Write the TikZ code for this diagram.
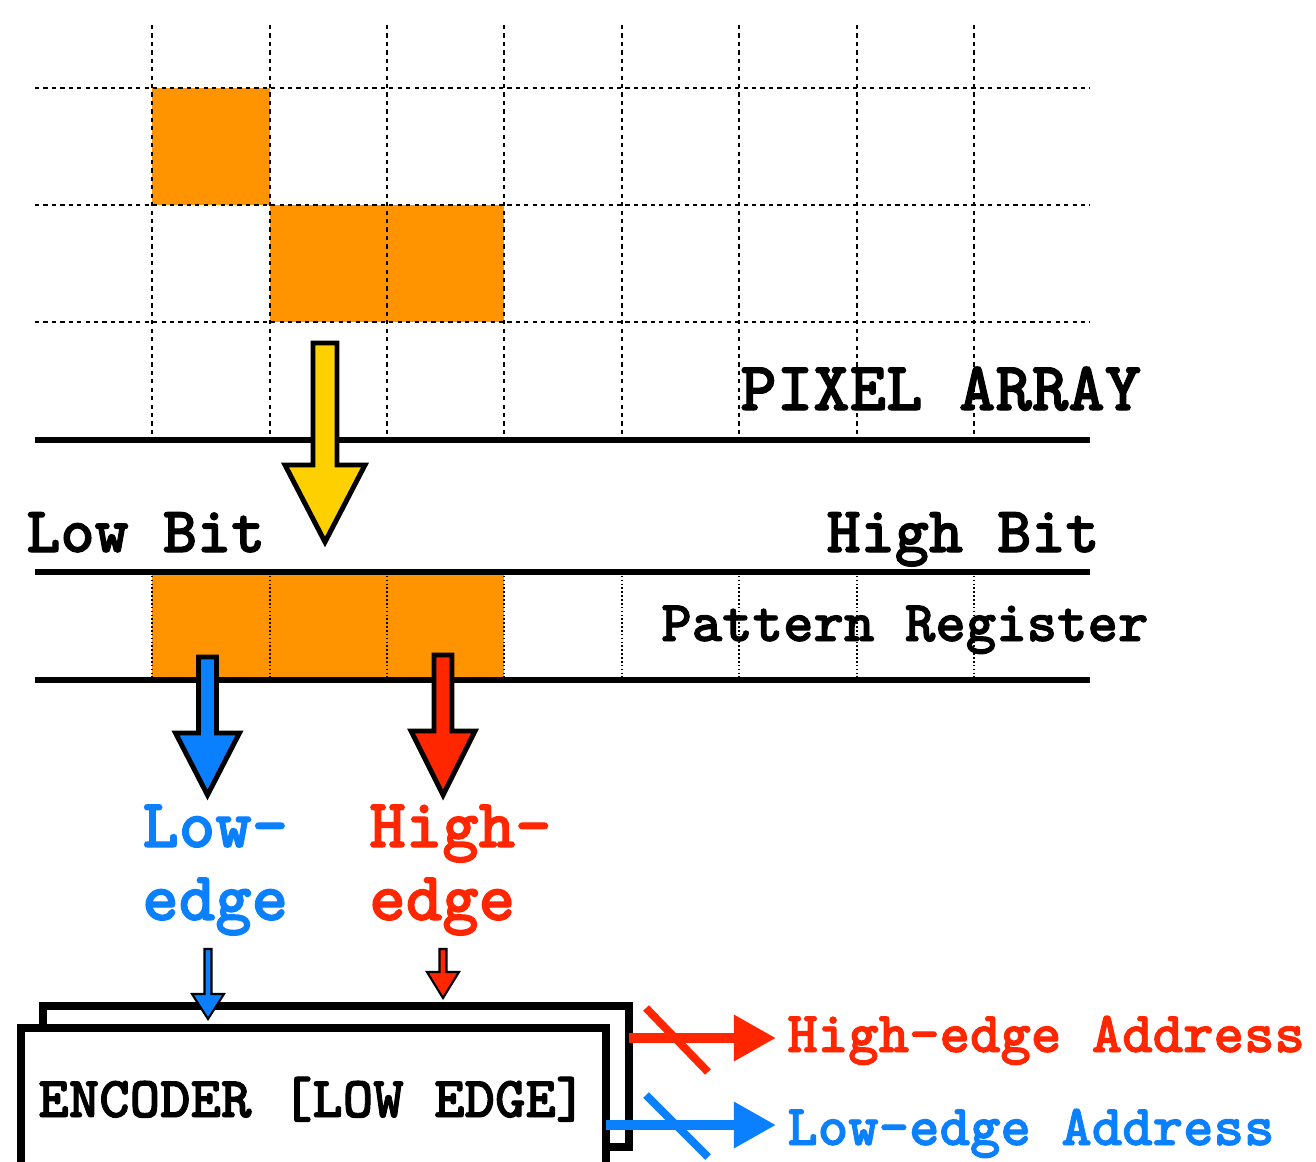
\documentclass[tikz,border=0pt]{standalone}
\usepackage{fontspec}
\usepackage{xcolor}
\usepackage{tikz}
\usetikzlibrary{arrows.meta}
\newfontfamily\heavytt{lmmonolt10-bold.otf}[FakeBold=1.6]
\definecolor{pixorange}{RGB}{255,147,0}
\definecolor{hityellow}{RGB}{255,208,0}
\definecolor{lowblue}{RGB}{10,128,255}
\definecolor{highred}{RGB}{255,38,0}
\newcommand{\sizeL}{\fontsize{39.5}{41.5}\selectfont}
\newcommand{\sizeM}{\fontsize{37}{42}\selectfont}
\newcommand{\sizeS}{\fontsize{33}{38}\selectfont}
% block arrow: centre x, top, neck, tip, half shaft, half head, fill
\newcommand{\blockarrow}[8]{%
  \filldraw[#8,fill=#7] (#1-#5,#2) -- (#1+#5,#2) -- (#1+#5,#3) -- (#1+#6,#3)
    -- (#1,#4) -- (#1-#6,#3) -- (#1-#5,#3) -- cycle;}

\begin{document}
\begin{tikzpicture}[x=0.2mm,y=-0.2mm,
  lbl/.style={inner sep=0pt,anchor=base west},
  gridline/.style={line width=0.8pt,dash pattern=on 2.4pt off 2.4pt},
  regline/.style={line width=0.8pt,dash pattern=on 0.9pt off 1.3pt},
  bus/.style={line width=3pt},
  encbox/.style={line width=4.5pt,fill=white},
  bigarrow/.style={draw=black,line width=2.8pt,line join=miter,miter limit=10},
  smallarrow/.style={draw=black,line width=1.2pt,line join=miter,miter limit=10},
  addr/.style={line width=5.7pt,-{Triangle[length=24pt,width=25pt]}},
  slash/.style={line width=4.5pt}]
\useasboundingbox (0,0) rectangle (1316,1162);
\clip (0,0) rectangle (1316,1162);

% pixel array
\fill[pixorange] (152,88) rectangle (270,205);
\fill[pixorange] (270,205) rectangle (504,322);
\foreach \x in {152,270,387,504,622,739,857,974}
  \draw[gridline] (\x,25) -- (\x,438);
\foreach \y in {88,205,322}
  \draw[gridline] (35,\y) -- (1090,\y);
\draw[bus] (35,440) -- (1090,440);
\node[lbl,font=\heavytt\sizeL] (pixarray) at (740,410) {PIXEL ARRAY};

% pattern register
\fill[pixorange] (152,572) rectangle (504,680);
\foreach \x in {152,270,387,504,622,739,857,974}
  \draw[regline] (\x,572) -- (\x,680);
\draw[bus] (35,572) -- (1090,572);
\draw[bus] (35,680) -- (1090,680);
\node[lbl,font=\heavytt\sizeM] (lowbit) at (26,552) {Low Bit};
\node[lbl,font=\heavytt\sizeM,anchor=base east] (highbit) at (1100,552) {High Bit};
\node[lbl,font=\heavytt\sizeS] (patreg) at (661,641) {Pattern Register};

\blockarrow{325}{343}{465}{542}{12}{40}{hityellow}{bigarrow}

% edge detection
\blockarrow{207.5}{657}{733}{795}{9}{32}{lowblue}{bigarrow}
\blockarrow{443}{655}{731}{795}{9}{32}{highred}{bigarrow}
\node[lbl,font=\heavytt\sizeL,text=lowblue,align=left]
  (lowedge) at (142,920) {Low-\\edge};
\node[lbl,font=\heavytt\sizeL,text=highred,align=left]
  (highedge) at (369,920) {High-\\edge};

% encoder
\draw[encbox] (43,1006) rectangle (629,1147);
\draw[encbox] (21,1028) rectangle (606,1190);
\node[lbl,font=\heavytt\sizeS] (enc) at (38,1117) {ENCODER [LOW EDGE]};
\blockarrow{208}{949}{994}{1019}{3.5}{16}{lowblue}{smallarrow}
\blockarrow{443}{949}{972}{998}{3.5}{16}{highred}{smallarrow}

\coordinate (hiout) at (629,1038);
\coordinate (hitip) at (776,1038);
\coordinate (loout) at (606,1125);
\coordinate (lotip) at (776,1125);
\draw[addr,highred] (hiout) -- (hitip);
\draw[slash,highred] (646,1008) -- (708,1072);
\draw[addr,lowblue] (loout) -- (lotip);
\draw[slash,lowblue] (646,1095) -- (708,1157);
\node[lbl,font=\heavytt\sizeS,text=highred] (hiaddr) at (787,1052) {High-edge Address};
\node[lbl,font=\heavytt\sizeS,text=lowblue] (loaddr) at (787,1145) {Low-edge Address};
\end{tikzpicture}
\end{document}
